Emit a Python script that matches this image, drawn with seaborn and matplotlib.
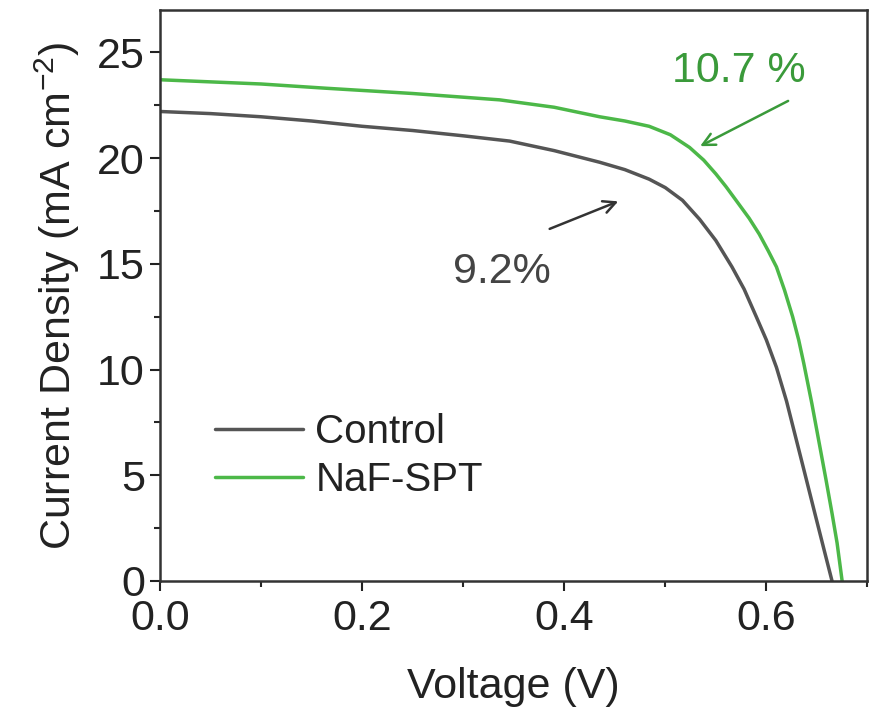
import pandas as pd
import seaborn as sns
import matplotlib.pyplot as plt
from matplotlib.ticker import MultipleLocator

# datos (J-V)
v_control = [0.0, 0.05, 0.10, 0.15, 0.20, 0.25, 0.30, 0.346, 0.39, 0.435, 0.46, 0.484, 0.50, 0.517,
             0.534, 0.55, 0.566, 0.578, 0.59, 0.60, 0.61, 0.62, 0.629, 0.638, 0.648, 0.657, 0.665]
j_control = [22.2, 22.1, 21.95, 21.75, 21.5, 21.3, 21.05, 20.8, 20.35, 19.8, 19.45, 19.0, 18.6, 18.0,
             17.1, 16.1, 14.85, 13.8, 12.5, 11.4, 10.1, 8.5, 6.8, 5.1, 3.2, 1.5, 0.0]

v_naf = [0.0, 0.05, 0.10, 0.164, 0.25, 0.336, 0.39, 0.435, 0.46, 0.484, 0.505, 0.524, 0.538, 0.55,
         0.56, 0.57, 0.583, 0.593, 0.602, 0.61, 0.618, 0.626, 0.632, 0.637, 0.645, 0.652, 0.659,
         0.665, 0.67, 0.675]
j_naf = [23.7, 23.6, 23.5, 23.3, 23.05, 22.75, 22.4, 21.95, 21.75, 21.5, 21.1, 20.5, 19.9, 19.25,
         18.65, 18.0, 17.15, 16.4, 15.6, 14.85, 13.75, 12.5, 11.4, 10.3, 8.4, 6.6, 4.8,
         3.2, 1.8, 0.0]

labels = ["Control", "NaF-SPT"]
colores = {"Control": "#555555", "NaF-SPT": "#4cb848"}

df = pd.concat([
    pd.DataFrame({"V": v_control, "J": j_control, "muestra": labels[0]}),
    pd.DataFrame({"V": v_naf, "J": j_naf, "muestra": labels[1]}),
])

sns.set_style("ticks")
plt.rcParams["font.family"] = ["Liberation Sans", "DejaVu Sans"]

fig, ax = plt.subplots(figsize=(8.7, 7.12), dpi=100)
fig.subplots_adjust(left=0.184, right=0.997, top=0.986, bottom=0.184)

sns.lineplot(data=df, x="V", y="J", hue="muestra", palette=colores,
             linewidth=2.5, sort=False, estimator=None, ax=ax)

ax.set_xlim(0, 0.7)
ax.set_ylim(0, 27)
ax.xaxis.set_major_locator(MultipleLocator(0.2))
ax.xaxis.set_minor_locator(MultipleLocator(0.1))
ax.yaxis.set_major_locator(MultipleLocator(5))
ax.yaxis.set_minor_locator(MultipleLocator(2.5))
ax.xaxis.set_major_formatter(plt.FormatStrFormatter("%.1f"))
ax.tick_params(which="major", direction="out", length=7, width=1.5, labelsize=31, colors="#222222")
ax.tick_params(axis="x", which="major", pad=6)
ax.tick_params(axis="y", which="major", pad=4)
ax.tick_params(which="minor", direction="out", length=4, width=1.5)
for s in ax.spines.values():
    s.set_linewidth(1.8)
    s.set_color("#333333")

ax.set_xlabel("Voltage (V)", fontsize=31, color="#222222", labelpad=20)
ax.set_ylabel("Current Density (mA cm$^{\\mathregular{-2}}$)", fontsize=31, color="#222222", labelpad=11)

#Anotaciones
ax.text(0.573, 24.1, "10.7 %", fontsize=31, color="#3a9a3a", ha="center", va="center")
ax.annotate("", xy=(0.532, 20.5), xytext=(0.624, 22.76),
            arrowprops=dict(arrowstyle="->", color="#3a9a3a", lw=1.8, mutation_scale=22))
ax.text(0.338, 14.6, "9.2%", fontsize=31, color="#444444", ha="center", va="center")
ax.annotate("", xy=(0.456, 18.0), xytext=(0.383, 16.6),
            arrowprops=dict(arrowstyle="->", color="#333333", lw=1.8, mutation_scale=22))

leg = ax.legend(loc="upper left", bbox_to_anchor=(0.026, 0.357), frameon=False,
                fontsize=29, handlelength=2.2, handletextpad=0.3, labelspacing=0.25)
for t in leg.get_texts():
    t.set_color("#222222")

plt.savefig("out.png", dpi=100)
